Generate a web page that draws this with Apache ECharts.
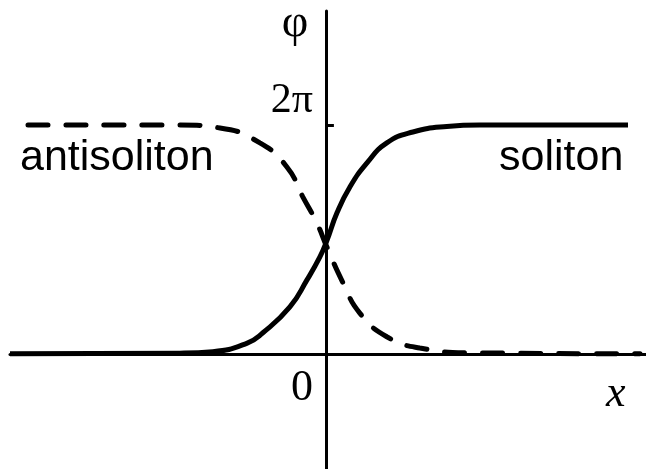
<!DOCTYPE html>
<html>
<head>
<meta charset="utf-8">
<script src="https://cdn.jsdelivr.net/npm/echarts@6/dist/echarts.min.js"></script>
<style>
  html, body { margin: 0; padding: 0; background: #fff; }
  #chart { width: 646px; height: 469px; }
</style>
</head>
<body>
<div id="chart"></div>
<script>
// Kink profile φ(x): soliton rises 0 → 2π, antisoliton falls 2π → 0
const solitonX = [-10.53, -4.87, -3.77, -2.64, -2.1, -1.2, -0.63, -0.2, 0.02, 0.37, 0.8, 1.37, 2.03, 2.9, 4.03, 5.13, 10.07];
const solitonY = [0.0, 0.02, 0.06, 0.29, 0.58, 1.29, 2.03, 2.66, 3.08, 3.87, 4.58, 5.24, 5.79, 6.09, 6.24, 6.28, 6.28];

const antisolitonX = [-9.93, -4.87, -3.53, -2.2, -1.3, -0.77, -0.3, 0.03, 0.57, 1.13, 2.03, 3.13, 4.9, 10.47];
const antisolitonY = [6.28, 6.28, 6.2, 5.79, 5.13, 4.31, 3.59, 2.94, 1.95, 1.12, 0.47, 0.16, 0.03, 0.0];

const yTickValues = [6.2832];
const yTickLabels = ['2π'];

const pairs = (xs, ys) => xs.map((x, i) => [x, ys[i]]);

const chart = echarts.init(document.getElementById('chart'), null, { renderer: 'canvas' });

const serif = '"Liberation Serif", "Times New Roman", serif';
const sans = '"Liberation Sans", Arial, sans-serif';

chart.setOption({
  animation: false,
  backgroundColor: '#ffffff',
  grid: { left: 10, right: 0, top: 11, bottom: 0, containLabel: false, outerBoundsMode: 'none' },
  xAxis: {
    type: 'value',
    min: -10.53,
    max: 10.67,
    axisLine: { show: true, onZero: true, lineStyle: { color: '#000', width: 3 } },
    axisTick: { show: false },
    axisLabel: { show: false },
    splitLine: { show: false }
  },
  yAxis: {
    type: 'value',
    min: -3.16,
    max: 9.41,
    axisLine: { show: true, onZero: true, lineStyle: { color: '#000', width: 3 } },
    axisTick: {
      show: true,
      inside: true,
      length: 8,
      customValues: yTickValues,
      lineStyle: { color: '#000', width: 3 }
    },
    axisLabel: { show: false },
    splitLine: { show: false }
  },
  series: [
    {
      name: 'soliton',
      type: 'line',
      data: pairs(solitonX, solitonY),
      smooth: 0.5,
      showSymbol: false,
      lineStyle: { color: '#000', width: 5 },
      z: 3
    },
    {
      name: 'antisoliton',
      type: 'line',
      data: pairs(antisolitonX, antisolitonY),
      smooth: 0.5,
      showSymbol: false,
      lineStyle: { color: '#000', width: 5, type: [20, 18], cap: 'round' },
      z: 3
    }
  ],
  graphic: [
    { type: 'text', x: 20, y: 137, style: { text: 'antisoliton', font: '43px ' + sans, fill: '#000' } },
    { type: 'text', x: 499, y: 137, style: { text: 'soliton', font: '43px ' + sans, fill: '#000' } },
    { type: 'text', x: 295, y: 24, style: { text: 'φ', font: '46px ' + serif, fill: '#000', align: 'center', verticalAlign: 'middle' } },
    { type: 'text', x: 313, y: 80, style: { text: yTickLabels[0], font: '42px ' + serif, fill: '#000', align: 'right' } },
    { type: 'text', x: 313, y: 366, style: { text: '0', font: '44px ' + serif, fill: '#000', align: 'right' } },
    { type: 'text', x: 606, y: 372, style: { text: 'x', font: 'italic 44px ' + serif, fill: '#000' } }
  ]
});
</script>
</body>
</html>
